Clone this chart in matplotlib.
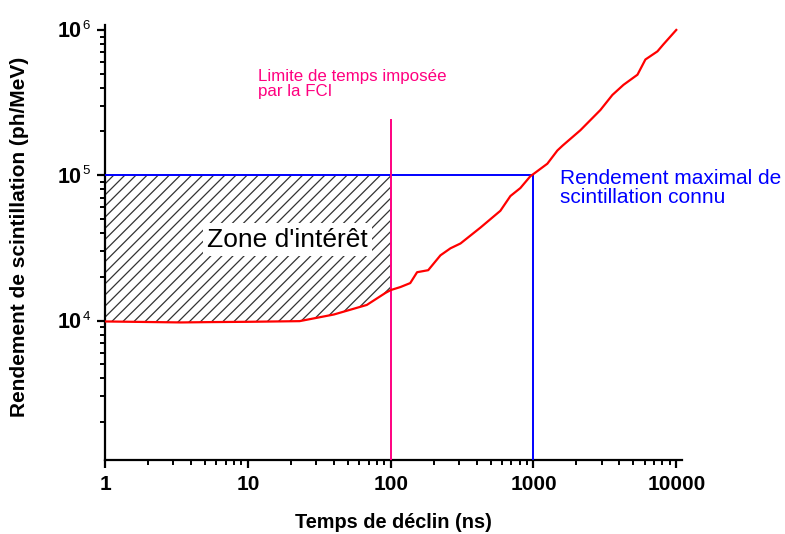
import numpy as np
import matplotlib
matplotlib.use("Agg")
import matplotlib.pyplot as plt
from matplotlib.ticker import LogLocator, FuncFormatter, NullFormatter

plt.rcParams["font.family"] = ["Liberation Sans", "DejaVu Sans"]
plt.rcParams["hatch.linewidth"] = 0.9

# scintillation yield vs decay time
decay_time = [1, 3.4, 5.4, 10.4, 23, 40, 68, 92, 100, 117, 137, 153, 183, 223, 262, 308,
              425, 586, 689, 809, 951, 1000, 1250, 1470, 1600, 2130, 2940, 3570, 4270,
              5350, 6080, 7380, 8130, 10000]
light_yield = [9850, 9700, 9750, 9800, 9900, 11000, 12800, 15500, 16200, 17000, 18100,
               21500, 22200, 28100, 31400, 33900, 43600, 56900, 71900, 81600, 98500,
               102000, 120000, 148000, 160000, 204000, 281000, 357000, 419000, 492000,
               626000, 712000, 796000, 1000000]

fci_limit = 100          # ns
fci_line_top = 2.4e5
max_time = 1000          # ns
max_yield = 1e5          # ph/MeV
y_ticks = [1e4, 1e5, 1e6]

x = np.array(decay_time, dtype=float)
y = np.array(light_yield, dtype=float)

fig = plt.figure(figsize=(7.85, 5.34), dpi=100)
ax = fig.add_axes([0.134, 0.139, 0.735, 0.814])
ax.set_xscale("log"); ax.set_yscale("log")
ax.set_xlim(1, 11000); ax.set_ylim(1100, 1.08e6)

# zone of interest: between the curve and the known max, below the FCI limit
m = x <= fci_limit
ax.fill_between(x[m], y[m], max_yield, facecolor="none", edgecolor="#333333",
                hatch="///", linewidth=0, zorder=1)

ax.plot(x, y, color="#ff0000", lw=1.6, zorder=4)
ax.plot([1, max_time], [max_yield, max_yield], color="#0000ff", lw=1.4, zorder=3)
ax.plot([max_time, max_time], [1100, max_yield], color="#0000ff", lw=1.4, zorder=3)
ax.plot([fci_limit, fci_limit], [1100, fci_line_top], color="#ff0080", lw=1.4, zorder=3)

ax.text(11.8, 5.4e5, "Limite de temps imposée\npar la FCI", color="#ff0080",
        fontsize=12.2, ha="left", va="top", linespacing=1.0)
ax.text(1543, 1.1e5, "Rendement maximal de\nscintillation connu", color="#0000ff",
        fontsize=15, ha="left", va="top", linespacing=1.0)
ax.text(18.9, 3.6e4, "Zone d'intérêt", color="black", fontsize=19, ha="center", va="center",
        bbox=dict(facecolor="white", edgecolor="none", pad=3), zorder=5)

for s in ("top", "right"):
    ax.spines[s].set_visible(False)
for s in ("left", "bottom"):
    ax.spines[s].set_linewidth(1.6)

ax.xaxis.set_major_locator(LogLocator(base=10, numticks=10))
ax.xaxis.set_minor_locator(LogLocator(base=10, subs=np.arange(2, 10), numticks=20))
ax.yaxis.set_major_locator(LogLocator(base=10, numticks=10))
ax.yaxis.set_minor_locator(LogLocator(base=10, subs=np.arange(2, 10), numticks=20))
ax.xaxis.set_major_formatter(FuncFormatter(lambda v, p: f"{v:.0f}"))
ax.yaxis.set_major_formatter(NullFormatter())
ax.xaxis.set_minor_formatter(NullFormatter()); ax.yaxis.set_minor_formatter(NullFormatter())
ax.tick_params(which="major", direction="out", length=6, width=1.6, labelsize=15, pad=5)
ax.tick_params(which="minor", direction="out", length=3.5, width=1.4)
for lab in ax.get_xticklabels():
    lab.set_fontweight("bold")

# y tick labels: bold "10" with a small exponent
ytr = ax.get_yaxis_transform()
for v in y_ticks:
    ax.annotate("10", xy=(0, v), xycoords=ytr, xytext=(-24, -2), textcoords="offset pixels",
                ha="right", va="center", fontsize=15.5, fontweight="bold")
    ax.annotate(f"{int(round(np.log10(v)))}", xy=(0, v), xycoords=ytr, xytext=(-23, 1),
                textcoords="offset pixels", ha="left", va="baseline", fontsize=9.5)

ax.set_xlabel("Temps de déclin (ns)", fontsize=14.3, fontweight="bold")
ax.set_ylabel("Rendement de scintillation (ph/MeV)", fontsize=15, fontweight="bold")
ax.xaxis.set_label_coords(0.5, -0.123)
ax.yaxis.set_label_coords(-0.132, 0.513)

fig.savefig("out.png", dpi=100)
